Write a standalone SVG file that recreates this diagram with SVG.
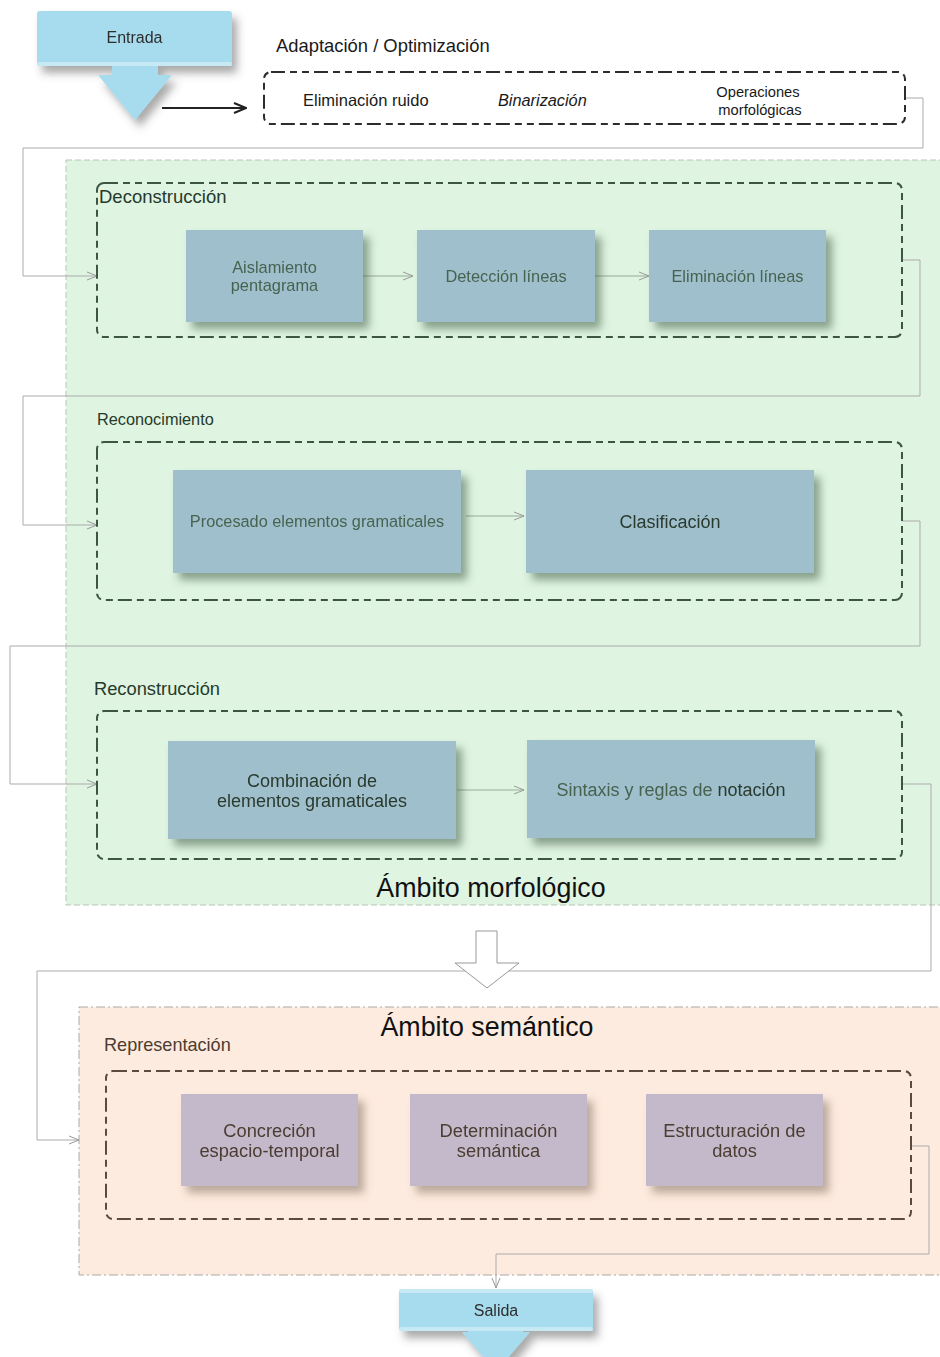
<svg xmlns="http://www.w3.org/2000/svg" width="940" height="1357" viewBox="0 0 940 1357">
  <defs>
    <style>
      text { font-family: "Liberation Sans", Arial, sans-serif; }
      .io { fill: #a6dcee; }
      .io-txt { font-size: 16px; fill: #2e2e2e; text-anchor: middle; }
      .grp-morph { fill: none; stroke: #3c5643; stroke-width: 2; stroke-dasharray: 14 5 7 5 7 5; }
      .grp-sem { fill: none; stroke: #5b4b3f; stroke-width: 2; stroke-dasharray: 14 5 7 5 7 5; }
      .grp-pre { fill: none; stroke: #2d2d2d; stroke-width: 2; stroke-dasharray: 14 5 7 5 7 5; }
      .node-m { fill: #9fbfcc; }
      .node-s { fill: #c3b9ca; }
      .txt-m { font-size: 16.4px; fill: #476350; text-anchor: middle; }
      .txt-md { font-size: 18px; fill: #2a3b2f; text-anchor: middle; }
      .txt-s { font-size: 18.3px; fill: #4c3c31; text-anchor: middle; }
      .lbl { fill: #263a2b; }
      .lbl-sem { fill: #4c3c31; }
      .title { font-size: 26.8px; fill: #111; text-anchor: middle; }
      .pre { fill: #1a1a1a; }
      .link { fill: none; stroke: #ababab; stroke-width: 1; }
      .link-in { fill: none; stroke: #9aab9c; stroke-width: 1; }
    </style>
    <marker id="open" markerWidth="12" markerHeight="10" refX="11" refY="5" orient="auto" markerUnits="userSpaceOnUse">
      <path d="M1,1 L11,5 L1,9" fill="none" stroke="#9a9a9a" stroke-width="1"/>
    </marker>
    <marker id="open-dark" markerWidth="14" markerHeight="12" refX="13" refY="6" orient="auto" markerUnits="userSpaceOnUse">
      <path d="M1,1 L13,6 L1,11" fill="none" stroke="#222" stroke-width="2"/>
    </marker>
    <filter id="sh-m" x="-10%" y="-10%" width="130%" height="140%">
      <feGaussianBlur in="SourceAlpha" stdDeviation="4"/>
      <feOffset dx="6" dy="7" result="b"/>
      <feFlood flood-color="#3f5c44" flood-opacity="0.55"/>
      <feComposite in2="b" operator="in"/>
      <feMerge><feMergeNode/><feMergeNode in="SourceGraphic"/></feMerge>
    </filter>
    <filter id="sh-s" x="-10%" y="-10%" width="130%" height="140%">
      <feGaussianBlur in="SourceAlpha" stdDeviation="4"/>
      <feOffset dx="6" dy="7" result="b"/>
      <feFlood flood-color="#6b5646" flood-opacity="0.45"/>
      <feComposite in2="b" operator="in"/>
      <feMerge><feMergeNode/><feMergeNode in="SourceGraphic"/></feMerge>
    </filter>
    <filter id="sh-io" x="-10%" y="-10%" width="130%" height="140%">
      <feGaussianBlur in="SourceAlpha" stdDeviation="4"/>
      <feOffset dx="5" dy="7" result="b"/>
      <feFlood flood-color="#555" flood-opacity="0.5"/>
      <feComposite in2="b" operator="in"/>
      <feMerge><feMergeNode/><feMergeNode in="SourceGraphic"/></feMerge>
    </filter>
  </defs>

  <rect width="940" height="1357" fill="#ffffff"/>

  <!-- domain regions -->
  <g id="region-morfologico">
    <rect x="66" y="160" width="890" height="745" fill="#dff4e1" stroke="#b9c4ba" stroke-width="1" stroke-dasharray="6 3"/>
    <text class="title" x="491" y="897">Ámbito morfológico</text>
  </g>
  <g id="region-semantico">
    <rect x="79" y="1007" width="880" height="268" fill="#fdebdf" stroke="#a9a9a9" stroke-width="1" stroke-dasharray="9 3 2 3"/>
    <text class="title" x="487" y="1036">Ámbito semántico</text>
  </g>

  <!-- connectors -->
  <g id="connectors">
    <line x1="162" y1="108" x2="246" y2="108" stroke="#222" stroke-width="2" marker-end="url(#open-dark)"/>
    <polyline class="link" points="905,98 923,98 923,148 23,148 23,276 97,276" marker-end="url(#open)"/>
    <line class="link-in" x1="363" y1="276" x2="413" y2="276" marker-end="url(#open)"/>
    <line class="link-in" x1="595" y1="276" x2="649" y2="276" marker-end="url(#open)"/>
    <polyline class="link" points="902,260 920,260 920,396 23,396 23,525 97,525" marker-end="url(#open)"/>
    <line class="link-in" x1="466" y1="516" x2="524" y2="516" marker-end="url(#open)"/>
    <polyline class="link" points="902,521 920,521 920,646 10,646 10,784 97,784" marker-end="url(#open)"/>
    <line class="link-in" x1="457" y1="790" x2="524" y2="790" marker-end="url(#open)"/>
    <polyline class="link" points="902,784 931,784 931,971 37,971 37,1140 79,1140" marker-end="url(#open)"/>
    <polyline class="link" points="911,1146 929,1146 929,1254 496,1254 496,1288" marker-end="url(#open)"/>
    <!-- transition between domains -->
    <polygon points="476,931 497,931 497,963 519,963 487,988 455,963 476,963" fill="#ffffff" stroke="#999" stroke-width="1"/>
  </g>

  <!-- input -->
  <g id="entrada" filter="url(#sh-io)">
    <polygon class="io" points="112,64 158,64 158,75 172,75 135,120 98,75 112,75"/>
    <rect class="io" x="37" y="11" width="195" height="55" rx="3"/>
    <rect x="37" y="62" width="195" height="4" rx="2" fill="#c6e9f4"/>
    <text class="io-txt" x="134.5" y="43">Entrada</text>
  </g>

  <!-- pre-processing group -->
  <g id="adaptacion">
    <text class="pre" x="276" y="52" font-size="18.4">Adaptación / Optimización</text>
    <rect class="grp-pre" x="264" y="72" width="641" height="52" rx="7"/>
    <text class="pre" x="303" y="106" font-size="16.5">Eliminación ruido</text>
    <text class="pre" x="498" y="106" font-size="16.3" font-style="italic">Binarización</text>
    <text class="pre" x="758" y="97" font-size="14.7" text-anchor="middle">Operaciones</text>
    <text class="pre" x="760" y="115" font-size="14.7" text-anchor="middle">morfológicas</text>
  </g>

  <!-- deconstruction stage -->
  <g id="deconstruccion">
    <rect class="grp-morph" x="97" y="183" width="805" height="154" rx="7"/>
    <text class="lbl" x="99" y="203" font-size="18.5">Deconstrucción</text>
  </g>
  <g id="aislamiento" filter="url(#sh-m)">
    <rect class="node-m" x="186" y="230" width="177" height="92"/>
    <text class="txt-m" x="274.5" y="273">Aislamiento</text>
    <text class="txt-m" x="274.5" y="291">pentagrama</text>
  </g>
  <g id="deteccion" filter="url(#sh-m)">
    <rect class="node-m" x="417" y="230" width="178" height="92"/>
    <text class="txt-m" x="506" y="282">Detección líneas</text>
  </g>
  <g id="eliminacion" filter="url(#sh-m)">
    <rect class="node-m" x="649" y="230" width="177" height="92"/>
    <text class="txt-m" x="737.5" y="282">Eliminación líneas</text>
  </g>

  <!-- recognition stage -->
  <g id="reconocimiento">
    <text class="lbl" x="97" y="425" font-size="16.3">Reconocimiento</text>
    <rect class="grp-morph" x="97" y="442" width="805" height="158" rx="7"/>
  </g>
  <g id="procesado" filter="url(#sh-m)">
    <rect class="node-m" x="173" y="470" width="288" height="103"/>
    <text class="txt-m" x="317" y="527" style="font-size:16.3px">Procesado elementos gramaticales</text>
  </g>
  <g id="clasificacion" filter="url(#sh-m)">
    <rect class="node-m" x="526" y="470" width="288" height="103"/>
    <text class="txt-md" x="670" y="528">Clasificación</text>
  </g>

  <!-- reconstruction stage -->
  <g id="reconstruccion">
    <text class="lbl" x="94" y="695" font-size="18.3">Reconstrucción</text>
    <rect class="grp-morph" x="97" y="711" width="805" height="148" rx="7"/>
  </g>
  <g id="combinacion" filter="url(#sh-m)">
    <rect class="node-m" x="168" y="741" width="288" height="98"/>
    <text class="txt-md" x="312" y="787">Combinación de</text>
    <text class="txt-md" x="312" y="807">elementos gramaticales</text>
  </g>
  <g id="sintaxis" filter="url(#sh-m)">
    <rect class="node-m" x="527" y="740" width="288" height="98"/>
    <text class="txt-m" x="671" y="796" style="font-size:18px">Sintaxis y reglas de <tspan fill="#2a3b2f">notación</tspan></text>
  </g>

  <!-- representation stage -->
  <g id="representacion">
    <text class="lbl-sem" x="104" y="1051" font-size="18.1">Representación</text>
    <rect class="grp-sem" x="106" y="1071" width="805" height="148" rx="7"/>
  </g>
  <g id="concrecion" filter="url(#sh-s)">
    <rect class="node-s" x="181" y="1094" width="177" height="92"/>
    <text class="txt-s" x="269.5" y="1137">Concreción</text>
    <text class="txt-s" x="269.5" y="1157">espacio-temporal</text>
  </g>
  <g id="determinacion" filter="url(#sh-s)">
    <rect class="node-s" x="410" y="1094" width="177" height="92"/>
    <text class="txt-s" x="498.5" y="1137">Determinación</text>
    <text class="txt-s" x="498.5" y="1157">semántica</text>
  </g>
  <g id="estructuracion" filter="url(#sh-s)">
    <rect class="node-s" x="646" y="1094" width="177" height="92"/>
    <text class="txt-s" x="734.5" y="1137">Estructuración de</text>
    <text class="txt-s" x="734.5" y="1157">datos</text>
  </g>

  <!-- output -->
  <g id="salida" filter="url(#sh-io)">
    <polygon class="io" points="468,1329 523,1329 523,1332 530,1332 496,1372 462,1332 468,1332"/>
    <rect class="io" x="399" y="1289" width="194" height="42" rx="4"/>
    <rect x="399" y="1289" width="194" height="4" rx="2" fill="#c6e9f4"/>
    <rect x="399" y="1327" width="194" height="4" rx="2" fill="#c6e9f4"/>
    <text class="io-txt" x="496" y="1316">Salida</text>
  </g>
</svg>
